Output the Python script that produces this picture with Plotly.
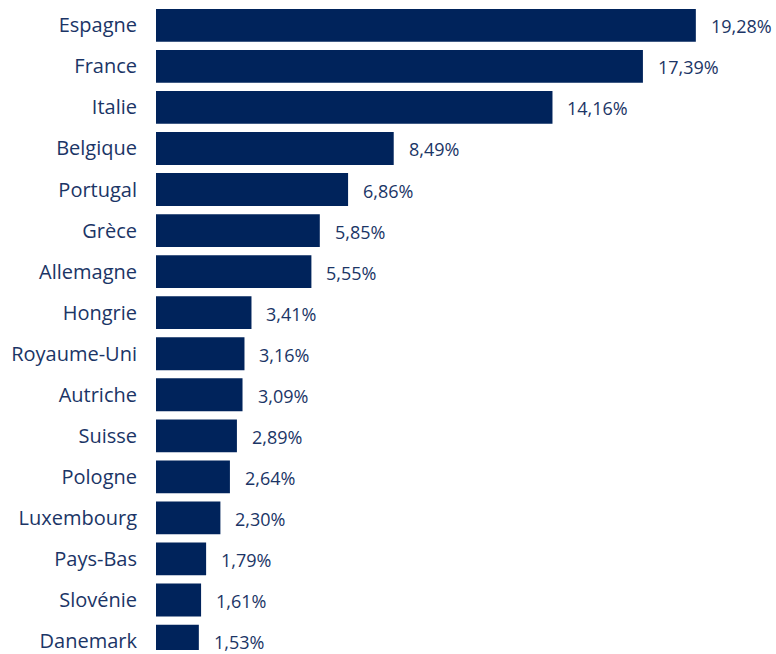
import plotly.graph_objects as go

countries = ["Espagne", "France", "Italie", "Belgique", "Portugal", "Grèce", "Allemagne",
             "Hongrie", "Royaume-Uni", "Autriche", "Suisse", "Pologne", "Luxembourg",
             "Pays-Bas", "Slovénie", "Danemark"]
values = [19.28, 17.39, 14.16, 8.49, 6.86, 5.85, 5.55, 3.41, 3.16, 3.09, 2.89, 2.64,
          2.30, 1.79, 1.61, 1.53]
labels = [f"{v:.2f}".replace(".", ",") + "%" for v in values]

BAR = "#00235b"
TXT = "#1b3566"
FONT = "Open Sans"

fig = go.Figure(go.Bar(
    x=values, y=countries, orientation="h",
    marker=dict(color=BAR, line=dict(width=0)),
    width=0.8, hoverinfo="skip",
))

for c, v, t in zip(countries, values, labels):
    fig.add_annotation(x=v, y=c, text=t, showarrow=False, xanchor="left",
                       xshift=13, yshift=-1, font=dict(family=FONT, size=18, color=TXT))

fig.update_layout(
    width=776, height=654,
    margin=dict(l=156, r=0, t=0, b=0),
    paper_bgcolor="white", plot_bgcolor="white",
    showlegend=False,
    xaxis=dict(range=[0, 620 / 28.0], visible=False, fixedrange=True),
    yaxis=dict(range=[15.218, -0.617], showgrid=False, zeroline=False,
               showline=False, ticks="", ticklabelstandoff=18,
               tickfont=dict(family=FONT, size=20, color=TXT)),
)

fig.write_html("out.html")
